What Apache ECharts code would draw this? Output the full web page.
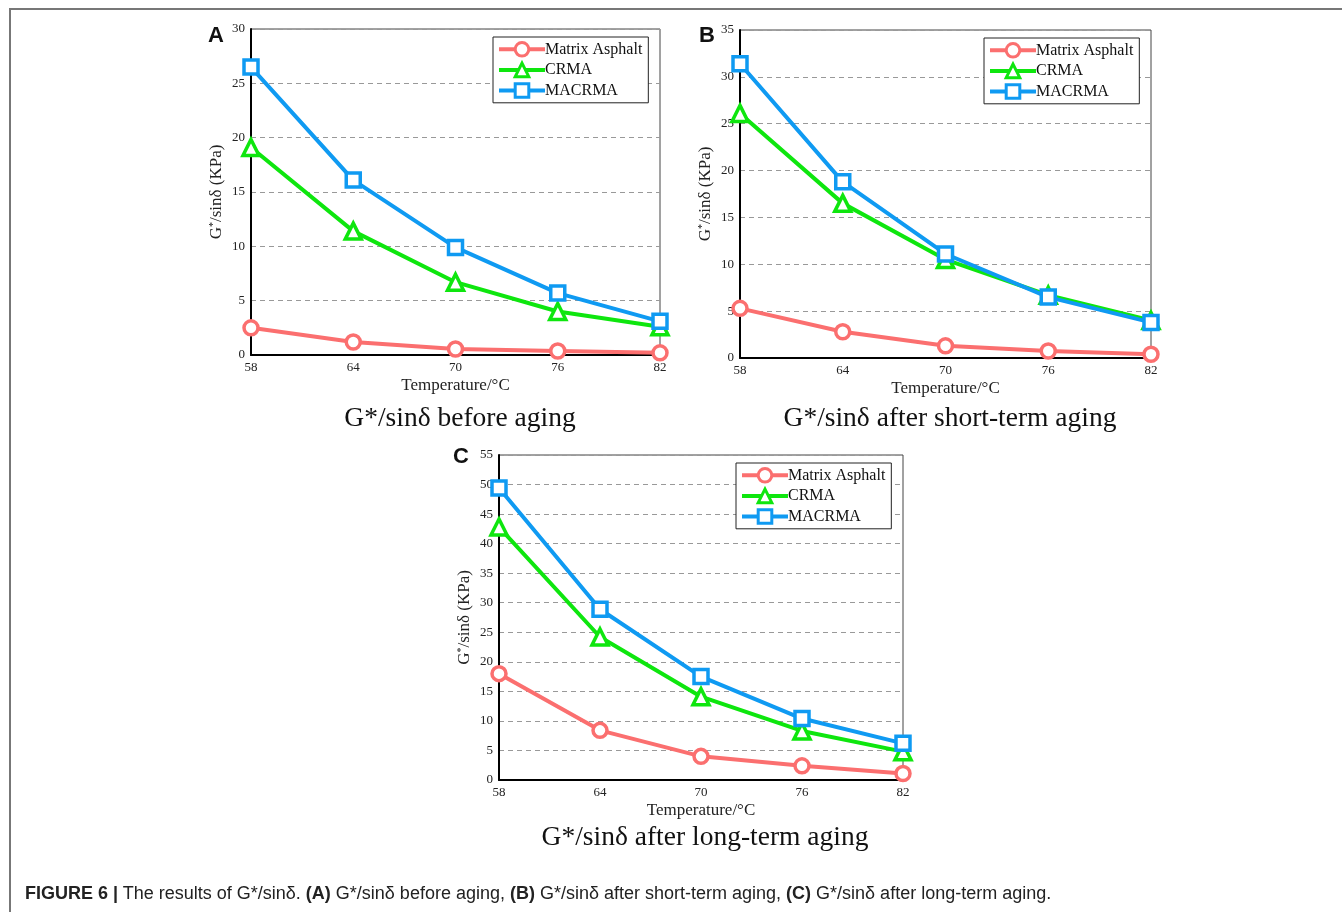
<!DOCTYPE html>
<html>
<head>
<meta charset="utf-8">
<script src="https://cdn.jsdelivr.net/npm/echarts@6/dist/echarts.min.js"></script>
<style>
  html, body { margin: 0; padding: 0; background: #fff; }
  .frame { position: absolute; left: 9px; top: 8px; right: 0; bottom: 0; border-top: 2px solid #777; border-left: 2px solid #777; }
  #chart { position: absolute; left: 0; top: 0; width: 1342px; height: 912px; }
  .caption { position: absolute; left: 25px; top: 883px; font-family: "Liberation Sans Narrow", "Liberation Sans", Arial, sans-serif; font-size: 18px; color: #222; white-space: nowrap; }
</style>
</head>
<body>
<div class="frame"></div>
<div id="chart"></div>
<div class="caption"><b>FIGURE 6 |</b> The results of G*/sinδ. <b>(A)</b> G*/sinδ before aging, <b>(B)</b> G*/sinδ after short-term aging, <b>(C)</b> G*/sinδ after long-term aging.</div>
<script>
// temperatures (°C)
var temps = ['58', '64', '70', '76', '82']
var seriesNames = ['Matrix Asphalt', 'CRMA', 'MACRMA']

// A: before aging
var matrixA = [2.5, 1.2, 0.55, 0.37, 0.2]
var crmaA = [19.1, 11.4, 6.7, 4.0, 2.6]
var macrmaA = [26.5, 16.1, 9.9, 5.7, 3.1]

// B: after short-term aging
var matrixB = [5.3, 2.8, 1.3, 0.75, 0.4]
var crmaB = [26.1, 16.5, 10.5, 6.7, 4.0]
var macrmaB = [31.4, 18.8, 11.1, 6.5, 3.8]

// C: after long-term aging
var matrixC = [18.0, 8.4, 4.0, 2.4, 1.1]
var crmaC = [42.8, 24.2, 14.1, 8.3, 4.8]
var macrmaC = [49.4, 28.9, 17.5, 10.4, 6.2]

var yMax = [30, 35, 55]
var subtitles = ['G*/sinδ before aging', 'G*/sinδ after short-term aging', 'G*/sinδ after long-term aging']
var letters = ['A', 'B', 'C']

var colors = ['#fb6f6f', '#0ee60e', '#0f9af2']
var symbols = ['circle', 'triangle', 'rect']
var serif = '"Liberation Serif", "Times New Roman", serif'
var sans = '"Liberation Sans", Arial, sans-serif'

var grids = [
  { left: 251, top: 29, width: 409, height: 326 },
  { left: 740, top: 30, width: 411, height: 328 },
  { left: 499, top: 455, width: 404, height: 325 }
]
var allData = [
  [matrixA, crmaA, macrmaA],
  [matrixB, crmaB, macrmaB],
  [matrixC, crmaC, macrmaC]
]

var option = {
  animation: false,
  textStyle: { fontFamily: serif },
  title: [],
  grid: [],
  xAxis: [],
  yAxis: [],
  legend: [],
  series: []
}

grids.forEach(function (g, i) {
  option.grid.push({
    left: g.left, top: g.top, width: g.width, height: g.height,
    show: true, borderColor: '#444', borderWidth: 1, backgroundColor: 'transparent'
  })
  option.xAxis.push({
    type: 'category',
    gridIndex: i,
    data: temps,
    boundaryGap: false,
    name: 'Temperature/°C',
    nameLocation: 'middle',
    nameGap: 22,
    nameTextStyle: { fontFamily: serif, fontSize: 17, color: '#222' },
    axisLine: { lineStyle: { color: '#000', width: 2 } },
    axisTick: { show: false },
    axisLabel: { fontFamily: serif, fontSize: 13, color: '#222', margin: 6 },
    splitLine: { show: false }
  })
  option.yAxis.push({
    type: 'value',
    gridIndex: i,
    min: 0,
    max: yMax[i],
    interval: 5,
    name: 'G{sup|*}/sinδ (KPa)',
    nameLocation: 'middle',
    nameGap: 26,
    nameRotate: 90,
    nameTextStyle: {
      fontFamily: serif, fontSize: 17, color: '#222',
      rich: { sup: { fontSize: 10, verticalAlign: 'top', padding: [0, 0, 7, 0], fontFamily: serif, color: '#222' } }
    },
    axisLine: { show: true, lineStyle: { color: '#000', width: 2 } },
    axisTick: { show: false },
    axisLabel: { fontFamily: serif, fontSize: 13, color: '#222', margin: 6 },
    splitLine: { show: true, lineStyle: { color: '#999', type: [5, 4], width: 1 } }
  })
  option.legend.push({
    data: seriesNames,
    orient: 'vertical',
    left: g.left + g.width - 167,
    top: g.top + 8,
    padding: [4, 6, 4, 4],
    itemGap: 4,
    itemWidth: 46,
    itemHeight: 17,
    borderColor: '#222',
    borderWidth: 1,
    backgroundColor: '#fff',
    lineStyle: { width: 4 },
    itemStyle: { borderWidth: 3 },
    textStyle: { fontFamily: serif, fontSize: 16, color: '#111', padding: [0, 0, 0, -5] }
  })
  allData[i].forEach(function (vals, k) {
    option.series.push({
      name: seriesNames[k],
      type: 'line',
      xAxisIndex: i,
      yAxisIndex: i,
      data: vals,
      symbol: symbols[k],
      symbolSize: k === 1 ? 16 : 14,
      z: 2 + k,
      lineStyle: { color: colors[k], width: 4 },
      itemStyle: { color: '#fff', borderColor: colors[k], borderWidth: 3.5 }
    })
  })
})

option.title = [
  { text: letters[0], left: 203, top: 20, textStyle: { fontFamily: sans, fontSize: 22, fontWeight: 'bold', color: '#111' } },
  { text: letters[1], left: 694, top: 20, textStyle: { fontFamily: sans, fontSize: 22, fontWeight: 'bold', color: '#111' } },
  { text: letters[2], left: 448, top: 441, textStyle: { fontFamily: sans, fontSize: 22, fontWeight: 'bold', color: '#111' } },
  { text: subtitles[0], left: 455, top: 400, textAlign: 'center', textStyle: { fontFamily: serif, fontSize: 27.5, fontWeight: 'normal', color: '#111' } },
  { text: subtitles[1], left: 945, top: 400, textAlign: 'center', textStyle: { fontFamily: serif, fontSize: 27.5, fontWeight: 'normal', color: '#111' } },
  { text: subtitles[2], left: 700, top: 819, textAlign: 'center', textStyle: { fontFamily: serif, fontSize: 27.5, fontWeight: 'normal', color: '#111' } }
]

var chart = echarts.init(document.getElementById('chart'))
chart.setOption(option)
</script>
</body>
</html>
